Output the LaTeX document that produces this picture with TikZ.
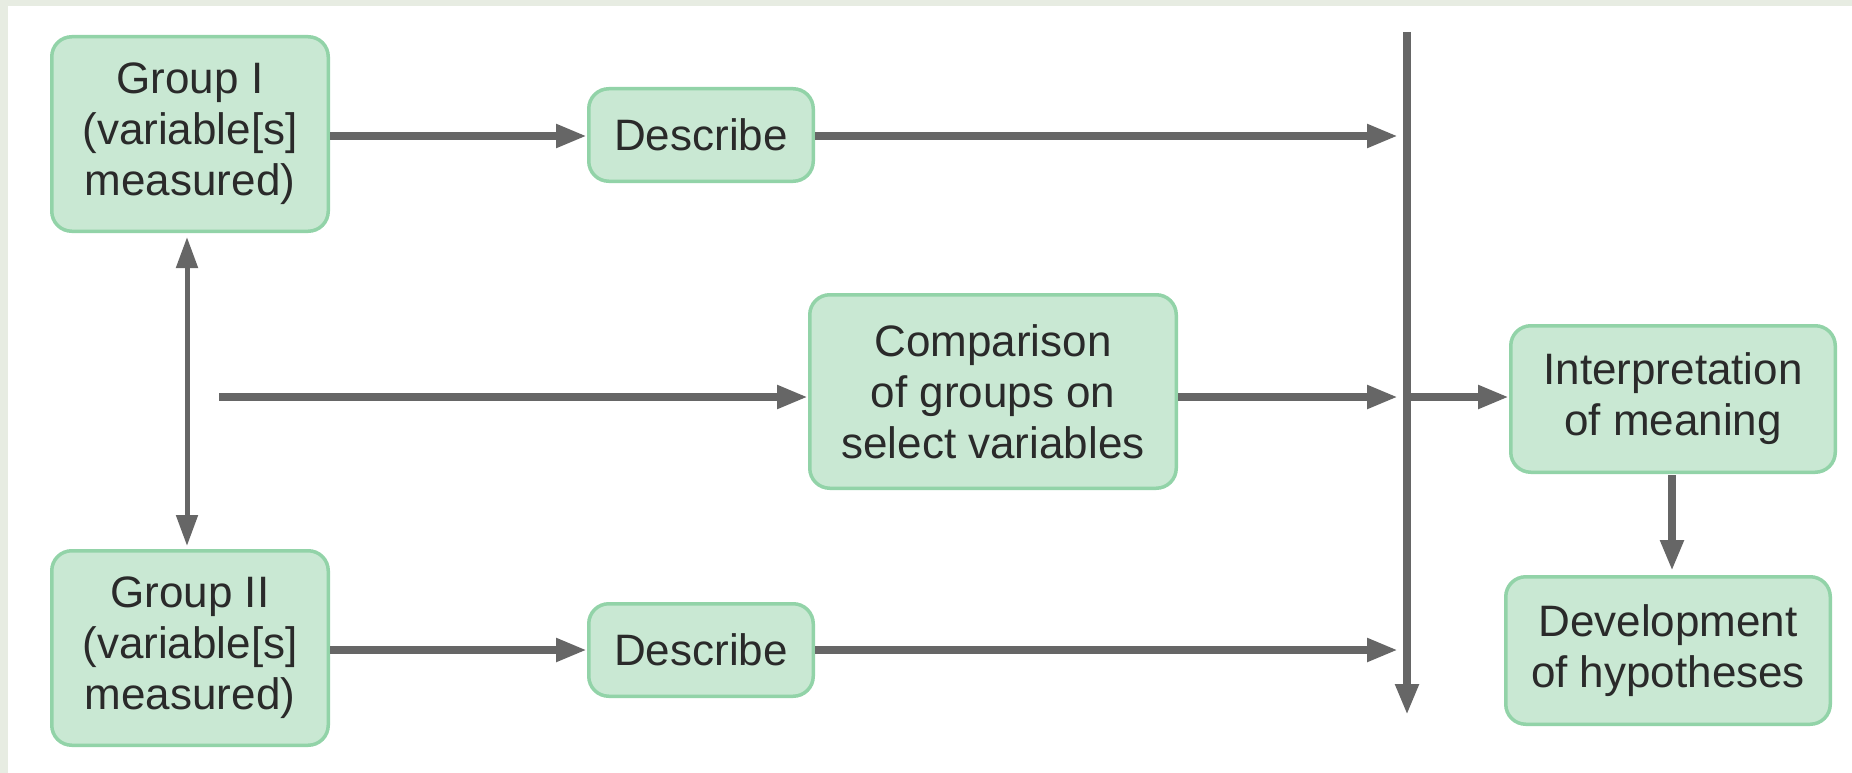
\documentclass[tikz,border=0pt]{standalone}
\usepackage{fontspec}
\setmainfont{Liberation Sans}
\usetikzlibrary{arrows.meta}

\definecolor{boxfill}{HTML}{C9E8D3}
\definecolor{boxline}{HTML}{92D3A8}
\definecolor{arrowgray}{HTML}{666666}
\definecolor{textdark}{HTML}{2A2A2A}
\definecolor{framegreen}{HTML}{E7ECE2}

\tikzset{
  stepbox/.style={draw=boxline, fill=boxfill, line width=3.5pt,
    rounded corners=20pt, align=center, text=textdark, inner sep=0pt,
    font=\fontsize{44}{51}\selectfont},
  flow/.style={draw=arrowgray, line width=8.5pt,
    -{Triangle[length=31pt,width=22pt]}},
  twoway/.style={draw=arrowgray, line width=5pt,
    {Triangle[length=31pt,width=21pt]}-{Triangle[length=31pt,width=21pt]}},
}

\begin{document}
\begin{tikzpicture}[x=1pt, y=-1pt]
  \useasboundingbox (0,0) rectangle (1852,773);
  % light frame along the top and left edges
  \fill[framegreen] (0,0) rectangle (1852,6);
  \fill[framegreen] (0,0) rectangle (8,773);

  % boxes
  \node[stepbox, minimum width=276.5pt, minimum height=194.5pt] (g1) at (190,134)
    {Group I\\(variable[s]\\measured)};
  \node[stepbox, minimum width=224.5pt, minimum height=92.5pt] (d1) at (701,135)
    {Describe};
  \node[stepbox, minimum width=366.5pt, minimum height=193.5pt] (cmp) at (993,391.5)
    {Comparison\\of groups on\\select variables};
  \node[stepbox, minimum width=324.5pt, minimum height=146.5pt] (int) at (1673,399)
    {Interpretation\\of meaning};
  \node[stepbox, minimum width=324.5pt, minimum height=147.5pt] (dev) at (1668,650.5)
    {Development\\of hypotheses};
  \node[stepbox, minimum width=276.5pt, minimum height=194.5pt] (g2) at (190,648)
    {Group II\\(variable[s]\\measured)};
  \node[stepbox, minimum width=224.5pt, minimum height=92.5pt] (d2) at (701,650)
    {Describe};

  % reference points for the rows and the collecting line
  \coordinate (rowa) at (0,136);
  \coordinate (rowb) at (0,397);
  \coordinate (rowc) at (0,650);
  \coordinate (midstart) at (219,397);
  \coordinate (bartop) at (1407,32);
  \coordinate (barend) at (1407,715);
  \coordinate (barin) at (1398,0);
  \coordinate (dblx) at (187,0);
  \coordinate (downx) at (1672,0);

  % collecting line
  \draw[flow] (bartop) -- (barend);

  % top row
  \draw[flow] (g1.east |- rowa) -- (d1.west |- rowa);
  \draw[flow] (d1.east |- rowa) -- (barin |- rowa);

  % middle row
  \draw[flow] (midstart) -- (cmp.west |- rowb);
  \draw[flow] (cmp.east |- rowb) -- (barin |- rowb);
  \draw[flow] (bartop |- rowb) -- (int.west |- rowb);

  % bottom row
  \draw[flow] (g2.east |- rowc) -- (d2.west |- rowc);
  \draw[flow] (d2.east |- rowc) -- (barin |- rowc);

  % link between the two groups
  \draw[twoway, shorten <=4pt, shorten >=3pt] (g1.south -| dblx) -- (g2.north -| dblx);

  % interpretation leads to hypotheses
  \draw[flow, shorten <=1pt, shorten >=4pt] (int.south -| downx) -- (dev.north -| downx);
\end{tikzpicture}
\end{document}
